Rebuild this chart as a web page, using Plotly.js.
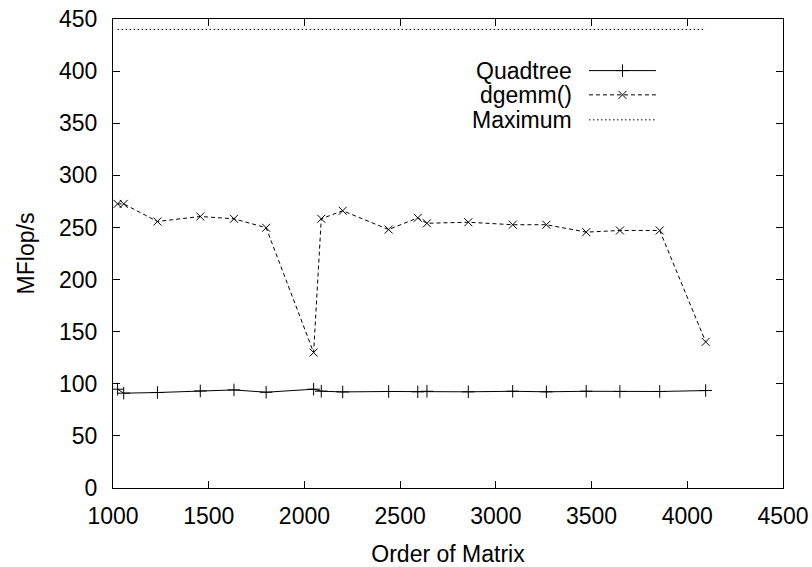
<!DOCTYPE html>
<html>
<head>
<meta charset="utf-8">
<script src="https://cdn.plot.ly/plotly-3.0.1.min.js"></script>
<style>html,body{margin:0;padding:0;background:#fff;}#chart{width:812px;height:567px;}</style>
</head>
<body>
<div id="chart"></div>
<script>
const matrixOrder = [1024, 1056, 1232, 1456, 1632, 1800, 2048, 2088, 2200, 2440, 2592, 2640, 2856, 3088, 3264, 3472, 3648, 3856, 4096];
const quadtree = [94.8, 91, 91.6, 93.1, 94.1, 91.9, 94.8, 92.9, 92.2, 92.6, 92.3, 92.8, 92.3, 92.8, 92.3, 92.8, 92.6, 92.6, 93.5];
const dgemm = [272.6, 272.6, 255.7, 260.5, 258.3, 249.7, 130, 258.3, 266, 248, 259.2, 254, 255, 252.6, 252.6, 245.5, 247.1, 247.1, 140.2];
const maxX = [1024, 4096];
const maxY = [440, 440];
const seriesNames = ["Quadtree", "dgemm()", "Maximum"];
const xTicks = [1000, 1500, 2000, 2500, 3000, 3500, 4000, 4500];
const yTicks = [0, 50, 100, 150, 200, 250, 300, 350, 400, 450];

const FONT = "Liberation Sans, Arial, sans-serif";
const FS = 23;
const traces = [
  {x: matrixOrder, y: quadtree, mode: "lines+markers", name: seriesNames[0],
   line: {color: "#000", width: 1},
   marker: {symbol: "cross-thin", size: 9, line: {color: "#000", width: 1}}},
  {x: matrixOrder, y: dgemm, mode: "lines+markers", name: seriesNames[1],
   line: {color: "#000", width: 1, dash: "4px,3px"},
   marker: {symbol: "x-thin", size: 8, line: {color: "#000", width: 1}}},
  {x: maxX, y: maxY, mode: "lines", name: seriesNames[2],
   line: {color: "#000", width: 1, dash: "1.5px,2.5px"}},
  // legend samples on a hidden overlay axis
  {x: [0, 1], y: [0.847, 0.847], xaxis: "x2", yaxis: "y2", mode: "lines", line: {color: "#000", width: 1}, hoverinfo: "skip"},
  {x: [0.5], y: [0.847], xaxis: "x2", yaxis: "y2", mode: "markers", marker: {symbol: "cross-thin", size: 9, line: {color: "#000", width: 1}}, hoverinfo: "skip"},
  {x: [0, 1], y: [0.5, 0.5], xaxis: "x2", yaxis: "y2", mode: "lines", line: {color: "#000", width: 1, dash: "4px,3px"}, hoverinfo: "skip"},
  {x: [0.5], y: [0.5], xaxis: "x2", yaxis: "y2", mode: "markers", marker: {symbol: "x-thin", size: 8, line: {color: "#000", width: 1}}, hoverinfo: "skip"},
  {x: [0, 1], y: [0.143, 0.143], xaxis: "x2", yaxis: "y2", mode: "lines", line: {color: "#000", width: 1, dash: "1.5px,2.5px"}, hoverinfo: "skip"}
];

const legendY = [0.847, 0.5, 0.143];
const legendAnn = seriesNames.map((n, i) => ({
  text: n, xref: "x2 domain", yref: "y2", x: 0, y: legendY[i],
  xanchor: "right", yanchor: "middle", showarrow: false, xshift: -15,
  font: {family: FONT, size: FS, color: "#000"}
}));

const layout = {
  width: 812, height: 567,
  margin: {l: 113, r: 29, t: 19, b: 79},
  paper_bgcolor: "#fff", plot_bgcolor: "#fff",
  showlegend: false,
  font: {family: FONT, size: FS, color: "#000"},
  xaxis: {range: [1000, 4500], tickvals: xTicks, ticktext: xTicks.map(String),
    ticks: "inside", ticklen: 7, tickcolor: "#000", showgrid: false, zeroline: false,
    showline: true, linecolor: "#000", linewidth: 1, mirror: "ticks",
    ticklabelstandoff: 7, automargin: false,
    title: {text: "Order of Matrix", font: {family: FONT, size: FS}, standoff: 19},
    tickfont: {family: FONT, size: FS}},
  yaxis: {range: [0, 450], tickvals: yTicks, ticktext: yTicks.map(String),
    ticks: "inside", ticklen: 7, tickcolor: "#000", showgrid: false, zeroline: false,
    showline: true, linecolor: "#000", linewidth: 1, mirror: "ticks",
    ticklabelstandoff: 10, automargin: false,
    title: {text: "MFlop/s", font: {family: FONT, size: FS}, standoff: 17},
    tickfont: {family: FONT, size: FS}},
  xaxis2: {domain: [0.7104, 0.8104], range: [0, 1], visible: false, fixedrange: true},
  yaxis2: {domain: [0.7637, 0.9128], range: [0, 1], visible: false, fixedrange: true},
  annotations: legendAnn
};

Plotly.newPlot("chart", traces, layout, {displayModeBar: false, staticPlot: true});
</script>
</body>
</html>
